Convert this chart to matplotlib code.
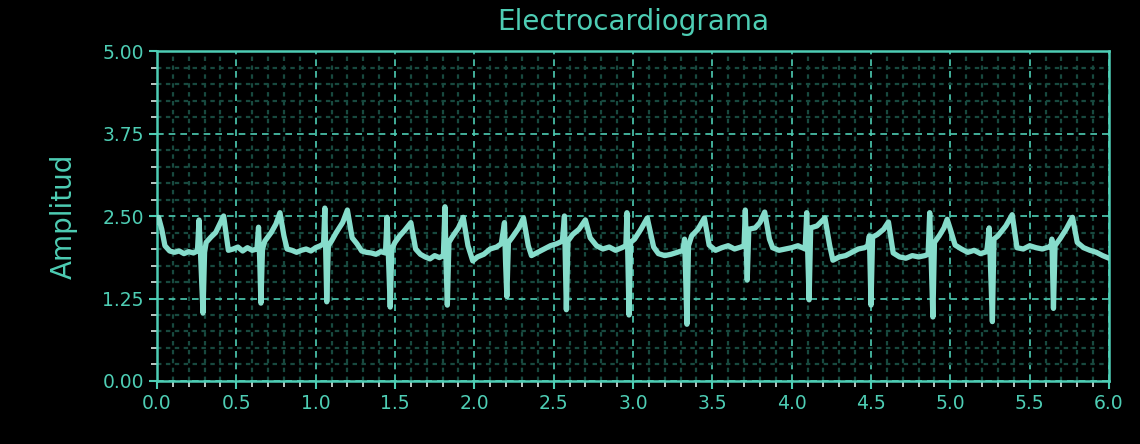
import matplotlib
matplotlib.use("Agg")
import matplotlib.pyplot as plt
from matplotlib.ticker import MultipleLocator, FormatStrFormatter

# ECG trace: time (s) and amplitude key points
t = [0.00, 0.01, 0.03, 0.05, 0.08, 0.11, 0.14, 0.17, 0.20, 0.23, 0.255,
     0.265, 0.275, 0.29, 0.30, 0.31, 0.34, 0.37, 0.40, 0.42, 0.44, 0.45,
     0.48, 0.51, 0.54, 0.57, 0.60, 0.63, 0.64, 0.648, 0.655, 0.665, 0.68,
     0.72, 0.75, 0.775, 0.80, 0.82, 0.85, 0.88, 0.91, 0.94, 0.97, 1.00,
     1.03, 1.05,
     1.058, 1.065, 1.07, 1.08, 1.10, 1.13, 1.17, 1.20, 1.23, 1.26, 1.29,
     1.32, 1.35, 1.38, 1.41, 1.44,
     1.45, 1.46, 1.47, 1.48, 1.50, 1.53, 1.56, 1.60, 1.63, 1.66, 1.69,
     1.72, 1.75, 1.78, 1.805,
     1.815, 1.822, 1.83, 1.84, 1.86, 1.90, 1.93, 1.96, 1.99, 2.02, 2.06,
     2.10, 2.14, 2.17,
     2.19, 2.197, 2.205, 2.215, 2.24, 2.28, 2.31, 2.34, 2.36, 2.40, 2.44,
     2.48, 2.52, 2.555,
     2.568, 2.574, 2.58, 2.59, 2.62, 2.66, 2.70, 2.73, 2.77, 2.81, 2.85,
     2.89, 2.93, 2.955,
     2.962, 2.968, 2.975, 2.985, 3.01, 3.05, 3.09, 3.13, 3.16, 3.20, 3.24,
     3.28, 3.315,
     3.325, 3.333, 3.34, 3.35, 3.37, 3.41, 3.45, 3.48, 3.52, 3.56, 3.60,
     3.64, 3.68, 3.70,
     3.708, 3.714, 3.72, 3.73, 3.77, 3.80, 3.83, 3.86, 3.88, 3.92, 3.96,
     4.00, 4.04, 4.085,
     4.095, 4.103, 4.11, 4.12, 4.16, 4.21, 4.24, 4.26, 4.30, 4.34, 4.38,
     4.42, 4.46, 4.48,
     4.49, 4.495, 4.50, 4.51, 4.54, 4.58, 4.61, 4.64, 4.68, 4.72, 4.76,
     4.80, 4.84, 4.86,
     4.87, 4.88, 4.89, 4.90, 4.93, 4.96, 4.98, 5.00, 5.03, 5.07, 5.11,
     5.15, 5.19, 5.23,
     5.245, 5.255, 5.265, 5.275, 5.30, 5.35, 5.39, 5.42, 5.46, 5.50, 5.54,
     5.58, 5.62, 5.635,
     5.64, 5.645, 5.65, 5.66, 5.69, 5.73, 5.77, 5.80, 5.84, 5.88, 5.92,
     5.96, 6.00]

amplitud = [2.40, 2.48, 2.30, 2.05, 1.97, 1.95, 1.97, 1.93, 1.96, 1.94, 1.97,
            2.44, 1.90, 1.03, 1.95, 2.10, 2.18, 2.25, 2.40, 2.50, 2.15, 1.98,
            2.00, 2.03, 1.97, 2.02, 1.98, 2.00, 2.33, 1.80, 1.18, 2.00, 2.12,
            2.25, 2.38, 2.55, 2.20, 2.00, 1.98, 1.95, 1.98, 2.00, 1.97, 2.02,
            2.05, 2.08,
            2.62, 1.80, 1.20, 2.05, 2.12, 2.25, 2.40, 2.59, 2.17, 2.08, 1.97,
            1.95, 1.94, 1.92, 1.96, 1.94,
            2.48, 1.80, 1.12, 2.00, 2.10, 2.20, 2.28, 2.40, 2.00, 1.92, 1.88,
            1.85, 1.90, 1.87, 1.90,
            2.64, 1.80, 1.15, 2.10, 2.18, 2.32, 2.48, 2.05, 1.82, 1.88, 1.92,
            2.00, 2.03, 2.08,
            2.40, 1.80, 1.28, 2.10, 2.18, 2.32, 2.47, 2.05, 1.90, 1.95, 2.00,
            2.05, 2.08, 2.12,
            2.50, 1.80, 1.08, 2.12, 2.22, 2.30, 2.44, 2.17, 2.05, 2.00, 2.03,
            1.98, 2.02, 2.05,
            2.55, 1.80, 1.00, 2.10, 2.15, 2.30, 2.47, 2.03, 1.93, 1.90, 1.92,
            1.95, 1.98,
            2.15, 1.50, 0.86, 2.05, 2.20, 2.30, 2.47, 2.06, 1.98, 2.02, 2.05,
            2.00, 2.03, 2.05,
            2.59, 2.00, 1.53, 2.30, 2.32, 2.40, 2.56, 2.15, 2.02, 1.98, 2.00,
            2.02, 2.05, 2.00,
            2.55, 1.80, 1.23, 2.32, 2.35, 2.47, 2.05, 1.83, 1.88, 1.90, 1.95,
            2.00, 2.02, 2.05,
            2.20, 1.70, 1.15, 2.18, 2.22, 2.30, 2.41, 1.94, 1.88, 1.86, 1.90,
            1.88, 1.90, 1.92,
            2.55, 1.80, 0.97, 2.10, 2.20, 2.32, 2.45, 2.30, 2.06, 2.00, 1.95,
            1.98, 1.93, 1.96,
            2.32, 1.60, 0.90, 2.15, 2.20, 2.35, 2.52, 2.02, 2.00, 2.05, 2.02,
            2.00, 2.03, 2.05,
            2.15, 1.60, 1.10, 2.05, 2.15, 2.30, 2.48, 2.10, 2.02, 1.98, 1.95,
            1.90, 1.86]

x_ticks = [0.0, 0.5, 1.0, 1.5, 2.0, 2.5, 3.0, 3.5, 4.0, 4.5, 5.0, 5.5, 6.0]
y_ticks = [0.00, 1.25, 2.50, 3.75, 5.00]

BG = "#000000"
TEAL = "#4ecdb4"
LINE = "#86dccb"

fig = plt.figure(figsize=(11.4, 4.44), dpi=100, facecolor=BG)
ax = fig.add_axes([0.1377, 0.1419, 0.8351, 0.7432], facecolor=BG)

ax.plot(t, amplitud, color=LINE, lw=3.8, solid_joinstyle="round",
        solid_capstyle="round", zorder=3)

ax.set_xlim(0, 6)
ax.set_ylim(0, 5)
ax.set_xticks(x_ticks)
ax.set_yticks(y_ticks)
ax.xaxis.set_major_formatter(FormatStrFormatter("%.1f"))
ax.yaxis.set_major_formatter(FormatStrFormatter("%.2f"))
ax.xaxis.set_minor_locator(MultipleLocator(0.1))
ax.yaxis.set_minor_locator(MultipleLocator(0.25))

ax.grid(which="minor", color="#18493f", lw=1.6, linestyle=(0, (2, 2)), zorder=1)
ax.grid(which="major", color=TEAL, lw=1.2, linestyle=(0, (4, 3)), zorder=2)
ax.set_axisbelow(True)

for sp in ax.spines.values():
    sp.set_color(TEAL)
    sp.set_linewidth(1.8)

ax.tick_params(which="major", colors=TEAL, labelcolor=TEAL, length=6,
               width=1.5, labelsize=13.5)
ax.tick_params(which="minor", colors="#d8e8e4", length=4, width=1.2)

ax.set_title("Electrocardiograma", color=TEAL, fontsize=20, pad=15)
ax.set_ylabel("Amplitud", color=TEAL, fontsize=20, labelpad=18)

fig.savefig("out.png", dpi=100, facecolor=BG)
